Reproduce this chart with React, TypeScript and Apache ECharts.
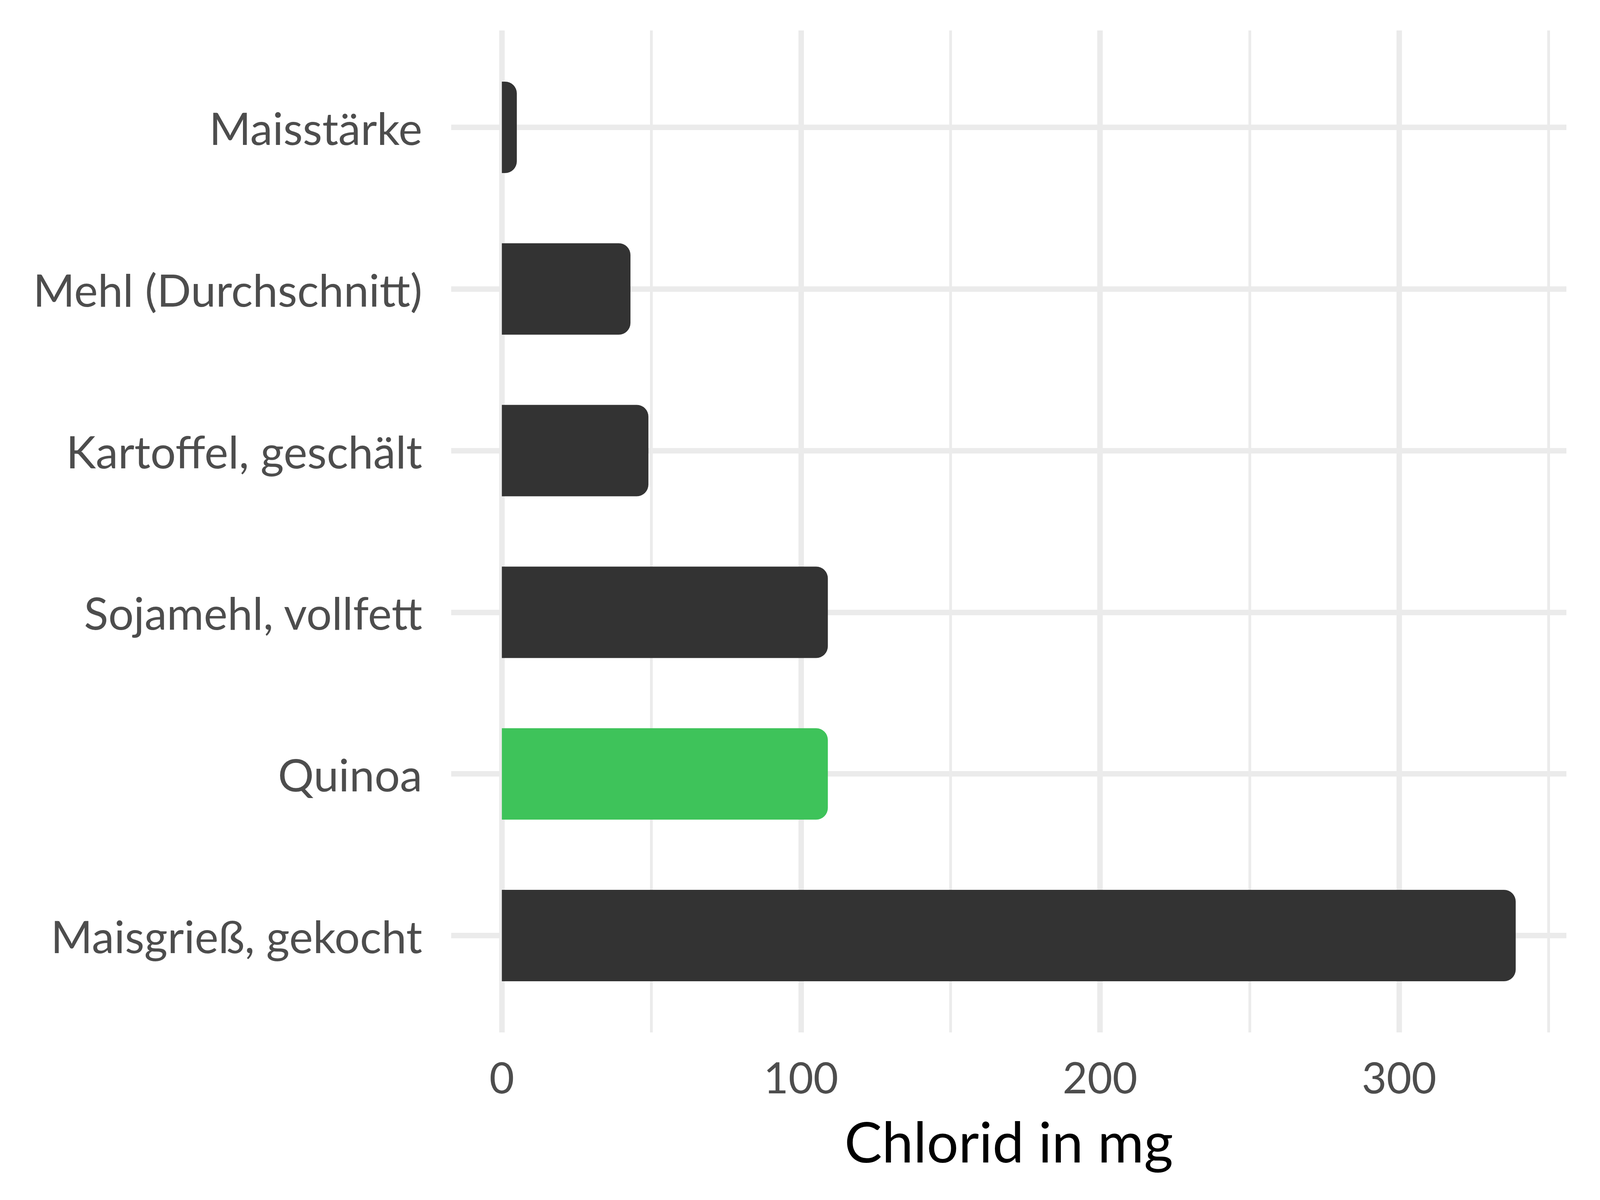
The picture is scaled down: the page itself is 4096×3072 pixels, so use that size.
import React, { useEffect, useRef } from "react";
import * as echarts from "echarts";

const categories = [
  "Maisstärke",
  "Mehl (Durchschnitt)",
  "Kartoffel, geschält",
  "Sojamehl, vollfett",
  "Quinoa",
  "Maisgrieß, gekocht",
];
const values = [5, 43, 49, 109, 109, 339];
const highlighted = "Quinoa";
const xAxisTitle = "Chlorid in mg";

const FONT = "Lato";
const GRID_COLOR = "#EBEBEB";

export default function App() {
  const ref = useRef<HTMLDivElement>(null);

  useEffect(() => {
    document.body.style.margin = "0";
    if (!ref.current) return;
    const chart = echarts.init(ref.current, undefined, { renderer: "svg" });

    const maxVal = Math.max(...values);
    const pad = maxVal * 0.05;
    const xMin = -pad;
    const xMax = maxVal + pad;

    const option = {
      animation: false,
      backgroundColor: "#FFFFFF",
      grid: [
        { left: 1155, right: 86, top: 78, bottom: 429 },
        { left: 1155, right: 86, top: 119, bottom: 470 },
      ],
      xAxis: [
        {
          type: "value",
          gridIndex: 0,
          min: xMin,
          max: xMax,
          splitNumber: 5,
          minInterval: 100,
          maxInterval: 100,
          axisLine: { show: false },
          axisTick: { show: false },
          axisLabel: {
            show: true,
            fontSize: 110,
            fontFamily: FONT,
            color: "#4D4D4D",
            margin: 58,
            showMinLabel: false,
            showMaxLabel: false,
            formatter: (v: number) =>
              Math.abs(v % 100) < 1e-6 ? String(Math.round(v)) : "",
          },
          splitLine: {
            show: true,
            showMinLine: false,
            showMaxLine: false,
            lineStyle: { color: GRID_COLOR, width: 14 },
          },
          minorTick: { show: false, splitNumber: 2 },
          minorSplitLine: {
            show: true,
            lineStyle: { color: GRID_COLOR, width: 7 },
          },
          name: xAxisTitle,
          nameLocation: "middle",
          nameGap: 205,
          nameTextStyle: { fontSize: 144, fontFamily: FONT, color: "#000000" },
        },
        {
          type: "value",
          gridIndex: 1,
          min: xMin,
          max: xMax,
          show: false,
        },
      ],
      yAxis: [
        {
          type: "value",
          gridIndex: 0,
          min: -0.6,
          max: categories.length - 1 + 0.6,
          inverse: true,
          splitNumber: categories.length,
          minInterval: 1,
          maxInterval: 1,
          axisLine: { show: false },
          axisTick: { show: false },
          axisLabel: { show: false },
          splitLine: {
            show: true,
            showMinLine: false,
            showMaxLine: false,
            lineStyle: { color: GRID_COLOR, width: 14 },
          },
        },
        {
          type: "category",
          gridIndex: 1,
          data: categories,
          inverse: true,
          axisLine: { show: false },
          axisTick: { show: false },
          splitLine: { show: false },
          axisLabel: {
            fontSize: 115,
            fontFamily: FONT,
            color: "#4D4D4D",
            margin: 74,
          },
        },
      ],
      series: [
        {
          type: "bar",
          xAxisIndex: 1,
          yAxisIndex: 1,
          barWidth: 234,
          data: values.map((v, i) => ({
            value: v,
            itemStyle: {
              color: categories[i] === highlighted ? "#3EC35A" : "#333333",
            },
          })),
          itemStyle: { borderRadius: [0, 30, 30, 0] },
        },
      ],
    };

    chart.setOption(option as any);
    return () => chart.dispose();
  }, []);

  return <div ref={ref} style={{ width: 4096, height: 3072 }} />;
}
